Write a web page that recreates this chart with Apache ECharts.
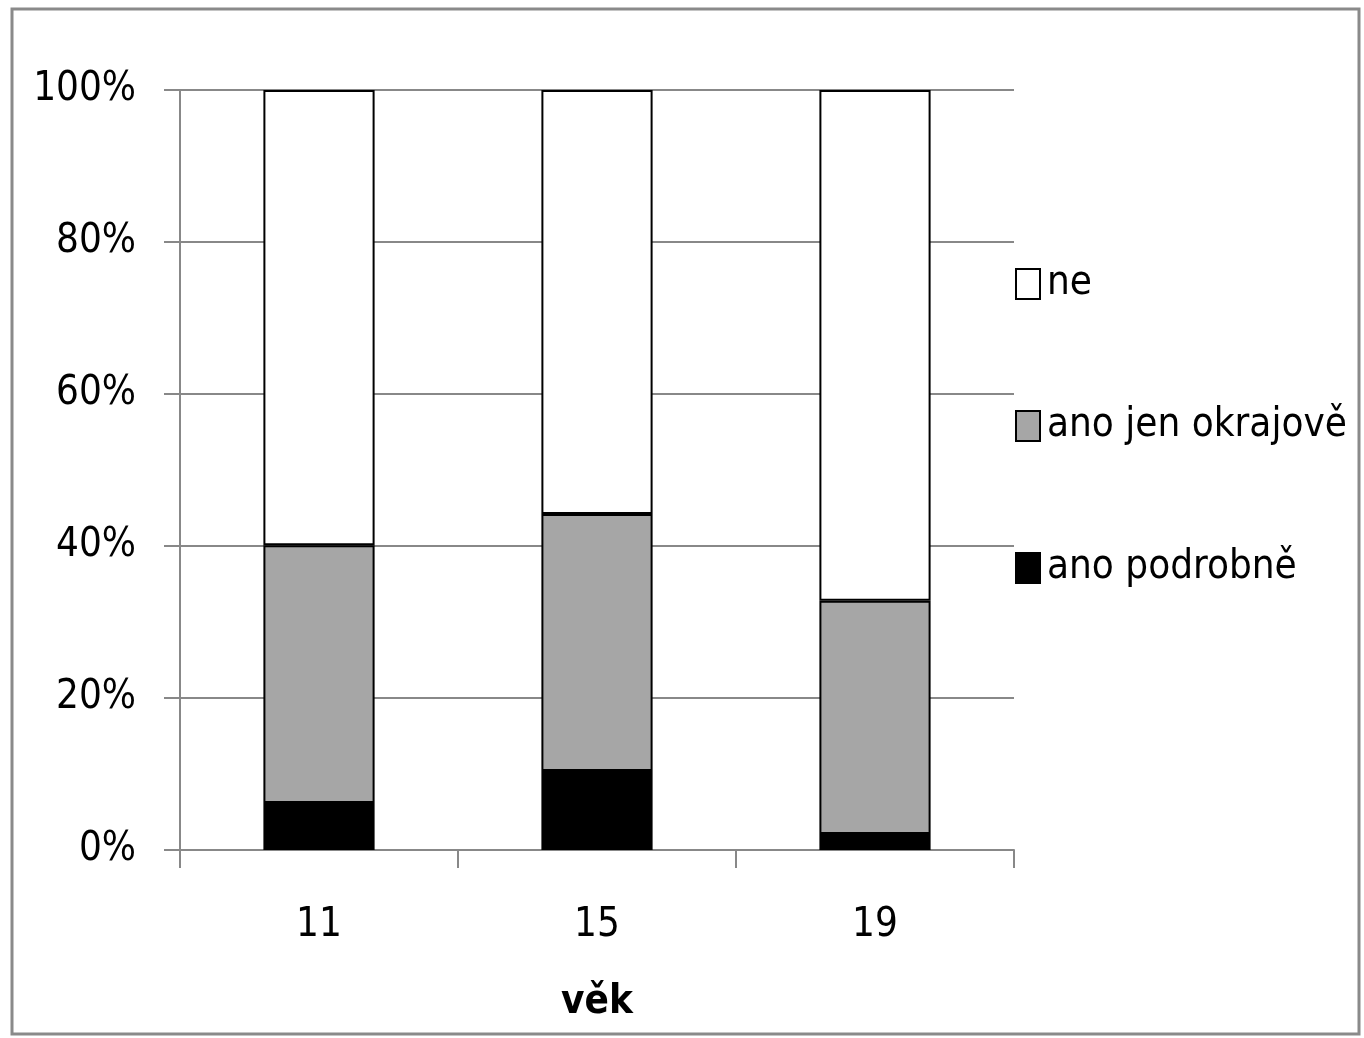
<!DOCTYPE html>
<html>
<head>
<meta charset="utf-8">
<script src="https://cdn.jsdelivr.net/npm/echarts@6/dist/echarts.min.js"></script>
<style>
  html, body { margin: 0; padding: 0; background: #fff; }
  #chart { width: 1364px; height: 1038px; }
</style>
</head>
<body>
<div id="chart"></div>
<script>
// Age groups on the x axis
const ages = ['11', '15', '19'];
// Shares of answers per age group (percent)
const anoPodrobne = [6.2, 10.4, 2.1];
const anoJenOkrajove = [33.9, 33.8, 30.7];
const ne = [59.9, 55.8, 67.2];
// Series names (legend order)
const seriesNames = ['ne', 'ano jen okrajově', 'ano podrobně'];

const FONT = '"DejaVu Sans Condensed", "Liberation Sans", sans-serif';
const FS = 40;

const chart = echarts.init(document.getElementById('chart'), null, { renderer: 'canvas' });

function barSeries(name, data, color) {
  return {
    name: name,
    type: 'bar',
    stack: 'total',
    data: data,
    barWidth: '40%',
    itemStyle: { color: color, borderColor: '#000', borderWidth: 2 },
    emphasis: { disabled: true }
  };
}

chart.setOption({
  animation: false,
  backgroundColor: '#fff',
  textStyle: { fontFamily: FONT },
  graphic: [{
    type: 'rect',
    shape: { x: 12, y: 9, width: 1347, height: 1025 },
    style: { fill: 'none', stroke: '#8a8a8a', lineWidth: 3 },
    z: 100
  }],
  grid: { left: 180, right: 350, top: 90, bottom: 188, containLabel: false, outerBoundsMode: 'none' },
  legend: {
    orient: 'vertical',
    left: 1010,
    top: 259,
    itemWidth: 24,
    itemHeight: 30,
    itemGap: 102,
    icon: 'rect',
    data: seriesNames,
    textStyle: { fontFamily: FONT, fontSize: FS, color: '#000', padding: [0, 0, 0, 2] },
    itemStyle: { borderColor: '#000', borderWidth: 2 },
    selectedMode: false
  },
  xAxis: {
    type: 'category',
    data: ages,
    name: 'věk',
    nameLocation: 'middle',
    nameGap: 133,
    nameTextStyle: { fontFamily: FONT, fontSize: FS, fontWeight: 'bold', color: '#000' },
    axisLine: { lineStyle: { color: '#888', width: 2 } },
    axisTick: { show: true, length: 18, lineStyle: { color: '#888', width: 2 } },
    axisLabel: { fontFamily: FONT, fontSize: FS, color: '#000', margin: 56 }
  },
  yAxis: {
    type: 'value',
    min: 0,
    max: 100,
    interval: 20,
    axisLine: { show: true, lineStyle: { color: '#888', width: 2 } },
    axisTick: { show: true, length: 16, lineStyle: { color: '#888', width: 2 } },
    splitLine: { lineStyle: { color: '#888', width: 2 } },
    axisLabel: { fontFamily: FONT, fontSize: FS, color: '#000', margin: 44, formatter: '{value}%' }
  },
  series: [
    barSeries('ano podrobně', anoPodrobne, '#000000'),
    barSeries('ano jen okrajově', anoJenOkrajove, '#a6a6a6'),
    barSeries('ne', ne, '#ffffff')
  ]
});
</script>
</body>
</html>
